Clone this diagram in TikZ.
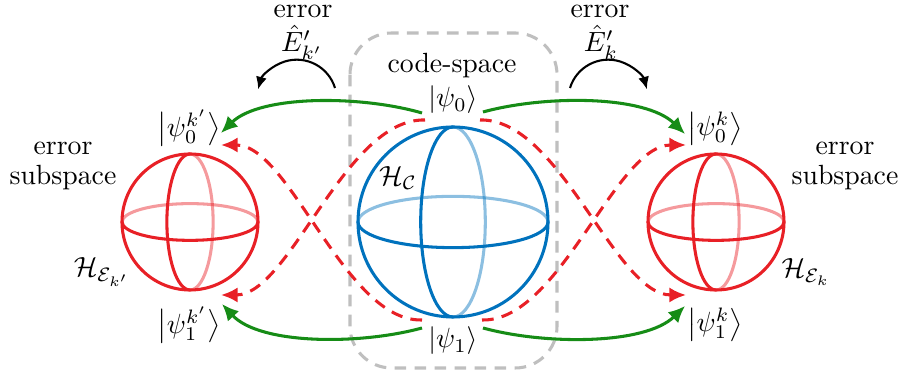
\documentclass[tikz,border=0pt]{standalone}
\usepackage{amsmath,amssymb}
\usepackage{xcolor}
\usepackage{tikz}
\usetikzlibrary{arrows.meta}

\definecolor{qblue}{RGB}{0,114,189}
\definecolor{qred}{RGB}{232,32,38}
\definecolor{qgreen}{RGB}{22,140,22}

% unit sphere: back halves faded, front halves full colour
\tikzset{
  bloch/.pic={
    \draw[pic actions, draw opacity=.45] (-1,0) arc[start angle=180, end angle=360, x radius=1, y radius=.27];
    \draw[pic actions, draw opacity=.45] (0,-1) arc[start angle=-90, end angle=90, x radius=.34, y radius=1];
    \draw[pic actions] (1,0) arc[start angle=0, end angle=180, x radius=1, y radius=.27];
    \draw[pic actions] (0,1) arc[start angle=90, end angle=270, x radius=.34, y radius=1];
    \draw[pic actions] (0,0) circle[radius=1];
  }
}

\begin{document}
\begin{tikzpicture}[x=0.36pt, y=-0.36pt, line width=1.1pt,
  ket/.style={inner sep=1pt},
  fix/.style={qgreen, -{Latex[length=6pt,width=5.5pt]}},
  leak/.style={qred, dash pattern=on 4.2pt off 3pt, -{Latex[length=6pt,width=5.5pt]}},
  hop/.style={black, line width=0.75pt, -{Latex[length=4.5pt,width=4pt]}}]
  \useasboundingbox (0,0) rectangle (901,376);

  % code-space frame
  \draw[gray!50, dash pattern=on 4.2pt off 3pt, rounded corners=15pt] (350,33) rectangle (557,368);
  \node[anchor=base](cs) at (452,73){code-space};

  % the three spheres
  \pic[draw=qblue, scale=95] at (453,222) {bloch};
  \pic[draw=qred, scale=68] at (190,222) {bloch};
  \pic[draw=qred, scale=68] at (716,222) {bloch};
  \node(hc) at (398,178){$\mathcal{H}_{\mathcal{C}}$};
  \node(hl) at (102,272){$\mathcal{H}_{\mathcal{E}_{k'}}$};
  \node(hr) at (806,272){$\mathcal{H}_{\mathcal{E}_k}$};
  \node[align=center](subl) at (63,166){error\\[-1pt]subspace};
  \node[align=center](subr) at (845,166){error\\[-1pt]subspace};

  % states
  \node[ket](k0) at (453,100){$\lvert\psi_0\rangle$};
  \node[ket](k1) at (453,341){$\lvert\psi_1\rangle$};
  \node[ket](kl0) at (189,128){$\bigl|\psi_0^{k'}\bigr\rangle$};
  \node[ket](kl1) at (189,325){$\bigl|\psi_1^{k'}\bigr\rangle$};
  \node[ket](kr0) at (715,129){$\bigl|\psi_0^{k}\bigr\rangle$};
  \node[ket](kr1) at (715,325){$\bigl|\psi_1^{k}\bigr\rangle$};

  % error operators
  \node[anchor=base](errl) at (303,18){error};
  \node[anchor=base](opl) at (302,52){$\hat{E}'_{k'}$};
  \node[anchor=base](errr) at (600,18){error};
  \node[anchor=base](opr) at (601,52){$\hat{E}'_k$};
  \draw[hop] (335,88) arc[start angle=-17, end angle=-165, radius=40];
  \draw[hop] (570,88) arc[start angle=-163, end angle=-15, radius=40];

  % end points of the connectors
  \coordinate (g0l) at (422,113); \coordinate (g0r) at (483,112);
  \coordinate (g1l) at (422,328); \coordinate (g1r) at (483,328);
  \coordinate (r0l) at (425,120); \coordinate (r0r) at (480,120);
  \coordinate (r1l) at (422,320); \coordinate (r1r) at (482,320);
  \coordinate (tl0) at (221,133); \coordinate (tl1) at (222,304);
  \coordinate (tr0) at (685,134); \coordinate (tr1) at (685,306);
  \coordinate (dl0) at (221,145); \coordinate (dl1) at (221,295);
  \coordinate (dr0) at (686,145); \coordinate (dr1) at (686,295);

  \draw[fix] (g0l) .. controls (360,95) and (260,95) .. (tl0);
  \draw[fix] (g1l) .. controls (360,345) and (260,345) .. (tl1);
  \draw[fix] (g0r) .. controls (545,95) and (645,95) .. (tr0);
  \draw[fix] (g1r) .. controls (545,345) and (645,345) .. (tr1);

  \draw[leak] (r0l) .. controls (345,118) and (290,295) .. (dl1);
  \draw[leak] (r1l) .. controls (345,322) and (290,145) .. (dl0);
  \draw[leak] (r0r) .. controls (560,118) and (615,295) .. (dr1);
  \draw[leak] (r1r) .. controls (560,322) and (615,145) .. (dr0);
\end{tikzpicture}
\end{document}
